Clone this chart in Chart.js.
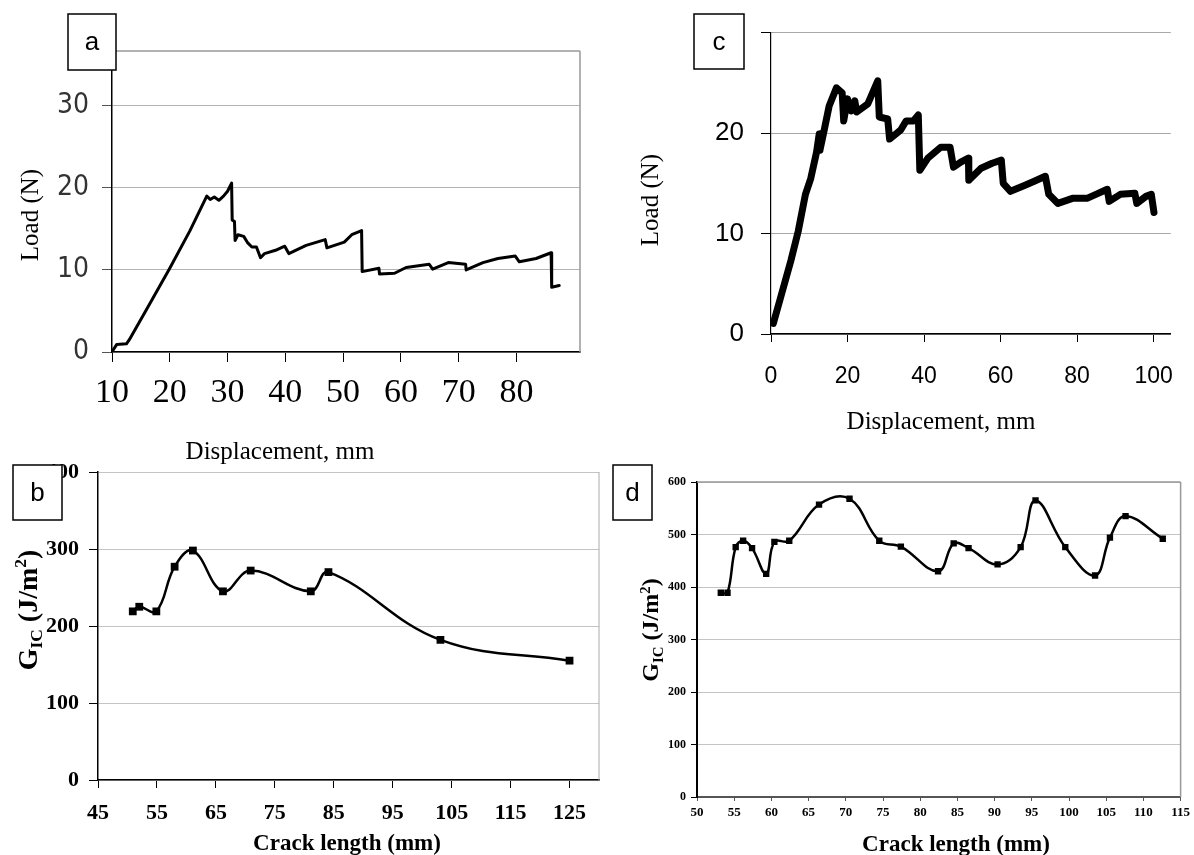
<!DOCTYPE html>
<html lang="en">
<head>
<meta charset="UTF-8">
<title>Load-displacement and GIC curves</title>
<script src="https://cdn.jsdelivr.net/npm/chart.js"></script>
<style>
  body { margin: 0; background: #fff; }
  #wrap { position: relative; width: 1194px; height: 855px; }
  #wrap canvas { position: absolute; left: 0; top: 0; }
</style>
</head>
<body>
<div id="wrap">
  <canvas id="chartA" width="1194" height="855"></canvas>
  <canvas id="chartC" width="1194" height="855"></canvas>
  <canvas id="chartB" width="1194" height="855"></canvas>
  <canvas id="chartD" width="1194" height="855"></canvas>
</div>

<script>
// ---- data ----
// (a) load vs displacement
const aDisp = [10.15, 10.8, 12.5, 13.0, 16.0, 20.0, 23.5, 26.4, 27.0, 27.7, 28.5, 29.3, 30.0, 30.7, 30.8, 31.2, 31.3, 31.8, 32.8, 33.5, 34.2, 35.0, 35.7, 36.4, 38.3, 39.9, 40.6, 43.6, 46.9, 47.2, 50.2, 51.5, 53.2, 53.3, 56.2, 56.3, 58.9, 60.9, 64.9, 65.5, 68.2, 71.2, 71.3, 74.2, 76.8, 79.8, 80.5, 83.4, 86.0, 86.1, 87.4];
const aLoad = [0.2, 0.9, 1.0, 1.5, 5.2, 10.2, 14.8, 19.0, 18.6, 18.9, 18.5, 19.0, 19.6, 20.6, 16.1, 15.9, 13.6, 14.3, 14.1, 13.3, 12.8, 12.8, 11.5, 12.0, 12.4, 12.9, 12.0, 13.0, 13.7, 12.7, 13.4, 14.3, 14.8, 9.8, 10.2, 9.5, 9.6, 10.3, 10.7, 10.1, 10.9, 10.7, 10.0, 10.9, 11.4, 11.7, 11.0, 11.4, 12.1, 7.9, 8.1];

// (c) load vs displacement
const cDisp = [0.6, 2.3, 5.2, 7.1, 9.0, 10.4, 11.9, 12.6, 12.8, 13.8, 15.2, 17.1, 18.6, 19.0, 20.0, 21.0, 21.9, 22.4, 25.3, 27.9, 28.3, 30.5, 31.0, 33.9, 35.3, 37.2, 38.5, 38.9, 41.0, 44.4, 46.8, 47.7, 49.6, 51.6, 51.7, 54.9, 57.8, 60.2, 60.7, 62.6, 66.4, 68.8, 71.7, 72.6, 75.0, 78.8, 82.6, 85.5, 87.9, 88.4, 91.3, 95.1, 95.6, 98.0, 99.4, 100.1];
const cLoad = [1.05, 3.35, 7.3, 10.2, 13.9, 15.5, 18.1, 19.9, 18.3, 20.1, 22.7, 24.5, 24.0, 21.2, 23.4, 22.2, 23.2, 22.1, 22.9, 25.2, 21.6, 21.4, 19.4, 20.3, 21.2, 21.2, 21.8, 16.3, 17.5, 18.6, 18.6, 16.6, 17.1, 17.5, 15.3, 16.5, 17.0, 17.3, 15.0, 14.2, 14.8, 15.2, 15.7, 13.9, 13.0, 13.5, 13.5, 14.0, 14.4, 13.2, 13.9, 14.0, 13.0, 13.7, 13.9, 12.1];

// (b) GIC vs crack length
const bCrack = [50.9, 52.0, 54.9, 58.0, 61.1, 66.2, 70.9, 81.1, 84.1, 103.1, 125.0];
const bGic = [219, 225, 219, 277, 298, 245, 272, 245, 270, 182, 155];

// (d) GIC vs crack length
const dCrack = [53.2, 54.1, 55.2, 56.2, 57.4, 59.3, 60.4, 62.4, 66.4, 70.5, 74.5, 77.4, 82.4, 84.5, 86.5, 90.4, 93.5, 95.5, 99.5, 103.5, 105.5, 107.6, 112.6];
const dGic = [389, 389, 476, 488, 474, 425, 486, 488, 557, 568, 488, 477, 430, 483, 474, 443, 476, 565, 476, 422, 494, 535, 492];

// tick values
const aXTicks = [10, 20, 30, 40, 50, 60, 70, 80];
const aYTicks = [0, 10, 20, 30];
const cXTicks = [0, 20, 40, 60, 80, 100];
const cYTicks = [0, 10, 20, 30];
const bXTicks = [45, 55, 65, 75, 85, 95, 105, 115, 125];
const bYTicks = [0, 100, 200, 300, 400];
const dXTicks = [50, 55, 60, 65, 70, 75, 80, 85, 90, 95, 100, 105, 110, 115];
const dYTicks = [0, 100, 200, 300, 400, 500, 600];

// ---- helpers ----
const W = 1194, H = 855;
const SERIF = "'Liberation Serif', 'Times New Roman', serif";
const SANS = "'Liberation Sans', Arial, sans-serif";
const NARROW = "'Liberation Sans Narrow', 'DejaVu Sans Condensed', sans-serif";

function pts(xs, ys) { return xs.map((x, i) => ({ x: x, y: ys[i] })); }
function fixTicks(vals) { return s => { s.ticks = vals.map(v => ({ value: v })); }; }

function drawParts(ctx, parts, x, y, size, weight, rot) {
  ctx.save();
  ctx.translate(x, y);
  ctx.rotate(rot || 0);
  let total = 0;
  const m = parts.map(p => {
    const s = size * (p.k || 1);
    ctx.font = weight + ' ' + s + 'px ' + SERIF;
    const w = ctx.measureText(p.t).width;
    total += w;
    return { t: p.t, s: s, w: w, dy: p.dy || 0 };
  });
  let cx = -total / 2;
  ctx.fillStyle = '#000';
  ctx.textBaseline = 'alphabetic';
  m.forEach(p => {
    ctx.font = weight + ' ' + p.s + 'px ' + SERIF;
    ctx.fillText(p.t, cx, size * 0.34 + p.dy * size);
    cx += p.w;
  });
  ctx.restore();
}

const deco = {
  id: 'deco',
  afterDraw(chart, args, o) {
    const ctx = chart.ctx, a = chart.chartArea;
    ctx.save();
    if (o.frame) {
      ctx.strokeStyle = o.frame;
      ctx.lineWidth = o.frameWidth || 1;
      ctx.beginPath();
      if (o.frameTop !== false) { ctx.moveTo(a.left, a.top); ctx.lineTo(a.right, a.top); }
      ctx.moveTo(a.right, a.top);
      ctx.lineTo(a.right, a.bottom);
      ctx.stroke();
    }
    (o.texts || []).forEach(t => drawParts(ctx, t.parts, t.x, t.y, t.size, t.weight || 'normal', t.rot));
    if (o.box) {
      const b = o.box;
      ctx.fillStyle = '#fff';
      ctx.fillRect(b.x, b.y, b.w, b.h);
      ctx.strokeStyle = '#000';
      ctx.lineWidth = 1.5;
      ctx.strokeRect(b.x, b.y, b.w, b.h);
      ctx.fillStyle = '#000';
      ctx.font = '26px ' + SANS;
      ctx.textAlign = 'center';
      ctx.textBaseline = 'middle';
      ctx.fillText(b.letter, b.x + b.w / 2, b.y + b.h * 0.52);
    }
    ctx.restore();
  }
};

function makeChart(id, p) {
  return new Chart(document.getElementById(id), {
    type: 'line',
    data: {
      datasets: [{
        data: pts(p.xs, p.ys),
        borderColor: '#000',
        backgroundColor: '#000',
        borderWidth: p.lineWidth,
        tension: p.tension || 0,
        borderJoinStyle: 'round',
        borderCapStyle: 'round',
        pointStyle: 'rect',
        pointRadius: p.pointRadius || 0,
        pointBorderWidth: 0
      }]
    },
    options: {
      responsive: false,
      animation: false,
      events: [],
      layout: { padding: { left: 0, top: p.area.t, right: W - p.area.r, bottom: 0 } },
      plugins: { legend: { display: false }, tooltip: { enabled: false }, deco: p.deco },
      scales: {
        x: {
          type: 'linear',
          min: p.xMin, max: p.xMax,
          afterBuildTicks: fixTicks(p.xTicks),
          afterFit: s => { s.height = H - p.area.b; },
          grid: { drawOnChartArea: false, drawTicks: true, tickLength: p.xTickLen, tickColor: p.xAxisColor, tickWidth: 1 },
          border: { color: p.xAxisColor, width: p.xAxisWidth },
          ticks: { font: p.xFont, color: '#000', padding: p.xPad, maxRotation: 0, autoSkip: false }
        },
        y: {
          min: p.yMin, max: p.yMax,
          afterBuildTicks: fixTicks(p.yTicks),
          afterFit: s => { s.width = p.area.l; },
          grid: { color: p.gridColor, lineWidth: 1, drawTicks: true, tickLength: p.yTickLen, tickColor: p.yTickColor },
          border: { color: '#000', width: p.yAxisWidth },
          ticks: { font: p.yFont, color: p.yColor, padding: p.yPad, callback: p.yCallback || (v => v) }
        }
      }
    },
    plugins: [deco]
  });
}

const loadTitle = [{ t: 'Load (N)' }];
const gicTitle = [{ t: 'G' }, { t: 'IC', k: 0.62, dy: 0.2 }, { t: ' (J/m' }, { t: '2', k: 0.62, dy: -0.36 }, { t: ')' }];
const crackTitle = [{ t: 'Crack length (mm)' }];
const dispTitle = [{ t: 'Displacement, mm' }];

// (a)
makeChart('chartA', {
  xs: aDisp, ys: aLoad, lineWidth: 3,
  area: { l: 112, r: 580, t: 51, b: 352 },
  xMin: 10, xMax: 91, yMin: 0, yMax: 36.7,
  xTicks: aXTicks, yTicks: aYTicks,
  xTickLen: 10, yTickLen: 10, xAxisColor: '#000', xAxisWidth: 1.5, yAxisWidth: 1.5,
  xFont: { family: SERIF, size: 34 }, xPad: 11,
  yFont: { family: NARROW, size: 28 }, yColor: '#333', yPad: 13, yTickColor: '#555',
  gridColor: '#b4b4b4',
  deco: {
    frame: '#999', frameWidth: 1.5,
    texts: [
      { parts: loadTitle, x: 29, y: 215, size: 25, rot: -Math.PI / 2 },
      { parts: dispTitle, x: 280, y: 450, size: 25 }
    ],
    box: { x: 68, y: 14, w: 48, h: 56, letter: 'a' }
  }
});

// (c)
makeChart('chartC', {
  xs: cDisp, ys: cLoad, lineWidth: 7,
  area: { l: 771, r: 1189, t: 29, b: 334 },
  xMin: 0, xMax: 104.5, yMin: 0, yMax: 30,
  xTicks: cXTicks, yTicks: cYTicks,
  xTickLen: 8, yTickLen: 10, xAxisColor: '#000', xAxisWidth: 1.5, yAxisWidth: 1.2,
  xFont: { family: SANS, size: 23 }, xPad: 21,
  yFont: { family: SANS, size: 26 }, yColor: '#000', yPad: 17, yTickColor: '#000',
  yCallback: v => (v === 30 ? '' : v),
  gridColor: '#a8a8a8',
  deco: {
    texts: [
      { parts: loadTitle, x: 649, y: 200, size: 25, rot: -Math.PI / 2 },
      { parts: dispTitle, x: 941, y: 420, size: 25 }
    ],
    box: { x: 694, y: 14, w: 50, h: 55, letter: 'c' }
  }
});

// (b)
makeChart('chartB', {
  xs: bCrack, ys: bGic, lineWidth: 2.5, tension: 0.4, pointRadius: 5.5,
  area: { l: 98, r: 599, t: 472, b: 780 },
  xMin: 45, xMax: 130, yMin: 0, yMax: 400,
  xTicks: bXTicks, yTicks: bYTicks,
  xTickLen: 8, yTickLen: 9, xAxisColor: '#000', xAxisWidth: 1.5, yAxisWidth: 1.5,
  xFont: { family: SERIF, size: 22, weight: 'bold' }, xPad: 12,
  yFont: { family: SERIF, size: 22, weight: 'bold' }, yColor: '#000', yPad: 10, yTickColor: '#000',
  gridColor: '#c4c4c4',
  deco: {
    frame: '#aaa', frameWidth: 1, frameTop: false,
    texts: [
      { parts: gicTitle, x: 27, y: 610, size: 28, weight: 'bold', rot: -Math.PI / 2 },
      { parts: crackTitle, x: 347, y: 842, size: 23, weight: 'bold' }
    ],
    box: { x: 13, y: 465, w: 49, h: 55, letter: 'b' }
  }
});

// (d)
makeChart('chartD', {
  xs: dCrack, ys: dGic, lineWidth: 2.5, tension: 0.4, pointRadius: 4.5,
  area: { l: 697, r: 1187, t: 482, b: 797 },
  xMin: 50, xMax: 115, yMin: 0, yMax: 600,
  xTicks: dXTicks, yTicks: dYTicks,
  xTickLen: 4, yTickLen: 6, xAxisColor: '#555', xAxisWidth: 2, yAxisWidth: 2,
  xFont: { family: SERIF, size: 13, weight: 'bold' }, xPad: 4,
  yFont: { family: SERIF, size: 12, weight: 'bold' }, yColor: '#000', yPad: 5, yTickColor: '#000',
  gridColor: '#c4c4c4',
  deco: {
    frame: '#999', frameWidth: 1.5,
    texts: [
      { parts: gicTitle, x: 650, y: 630, size: 24, weight: 'bold', rot: -Math.PI / 2 },
      { parts: crackTitle, x: 956, y: 843, size: 23, weight: 'bold' }
    ],
    box: { x: 613, y: 465, w: 39, h: 55, letter: 'd' }
  }
});
</script>
</body>
</html>
